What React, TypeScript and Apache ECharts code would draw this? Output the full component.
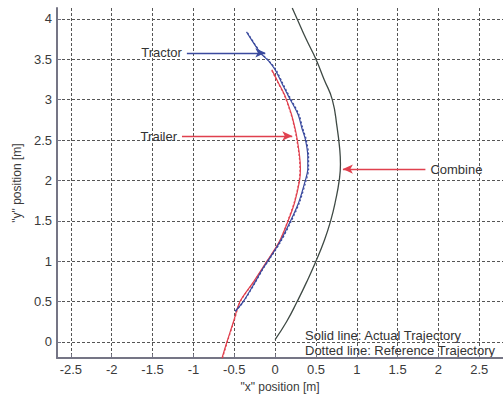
import React, { useEffect, useRef } from "react";
import * as echarts from "echarts";

// Axis ranges
const xRange = [-2.67, 2.79];
const yRange = [-0.2, 4.135];
const tickStep = 0.5;

// Tractor (blue) – actual trajectory
const tractorActualX = [-0.49, -0.39, -0.24, -0.15, -0.09, 0.06, 0.19, 0.29, 0.37, 0.4, 0.4, 0.37, 0.33, 0.28, 0.16, 0.08, 0.0, -0.08, -0.18, -0.35];
const tractorActualY = [0.38, 0.5, 0.75, 0.91, 1.0, 1.24, 1.5, 1.73, 2.0, 2.14, 2.3, 2.51, 2.64, 2.82, 3.05, 3.21, 3.37, 3.48, 3.58, 3.84];
// Tractor (blue) – reference trajectory
const tractorRefX = [-0.485, -0.385, -0.235, -0.145, -0.085, 0.068, 0.2, 0.3, 0.38, 0.41, 0.41, 0.38, 0.34, 0.29, 0.17, 0.09, 0.01, -0.075, -0.175, -0.345];
const tractorRefY = [0.38, 0.5, 0.75, 0.91, 1.0, 1.24, 1.5, 1.73, 2.0, 2.14, 2.3, 2.51, 2.64, 2.82, 3.05, 3.21, 3.37, 3.48, 3.58, 3.84];

// Trailer (red) – actual trajectory
const trailerActualX = [-0.65, -0.59, -0.51, -0.43, -0.26, -0.1, 0.05, 0.16, 0.24, 0.3, 0.31, 0.3, 0.27, 0.245, 0.2, 0.12, 0.04, -0.04];
const trailerActualY = [-0.2, 0.0, 0.25, 0.5, 0.75, 1.0, 1.24, 1.5, 1.73, 2.0, 2.14, 2.3, 2.51, 2.64, 2.82, 3.05, 3.21, 3.37];
// Trailer (red) – reference trajectory
const trailerRefX = [-0.645, -0.585, -0.505, -0.425, -0.255, -0.095, 0.055, 0.155, 0.235, 0.295, 0.305, 0.295, 0.265, 0.24, 0.195, 0.115, 0.035, -0.045];
const trailerRefY = [-0.2, 0.0, 0.25, 0.5, 0.75, 1.0, 1.24, 1.5, 1.73, 2.0, 2.14, 2.3, 2.51, 2.64, 2.82, 3.05, 3.21, 3.37];

// Combine (dark) trajectory
const combineX = [0.0, 0.14, 0.27, 0.39, 0.5, 0.6, 0.68, 0.74, 0.785, 0.8, 0.79, 0.76, 0.7, 0.6, 0.5, 0.38, 0.27, 0.21];
const combineY = [0.03, 0.25, 0.5, 0.75, 1.0, 1.25, 1.5, 1.75, 2.0, 2.2, 2.4, 2.65, 3.0, 3.25, 3.5, 3.75, 4.0, 4.135];

// Annotation arrows
const arrowLabels = ["Tractor", "Trailer", "Combine"];
const arrowStartX = [-1.08, -1.14, 1.84];
const arrowEndX = [-0.12, 0.21, 0.83];
const arrowY = [3.58, 2.55, 2.14];

const legendLines = ["Solid line: Actual Trajectory", "Dotted line: Reference Trajectory"];

const zip = (xs: number[], ys: number[]) => xs.map((x, i) => [x, ys[i]]);

const BLUE = "#3a4a9e";
const RED = "#e0404e";
const DARK = "#3f4a45";
const FONT = "'Liberation Sans', Arial, sans-serif";

export default function App() {
  const ref = useRef<HTMLDivElement>(null);
  useEffect(() => {
    if (!ref.current) return;
    const chart = echarts.init(ref.current, undefined, { renderer: "svg" });
    const arrowColors = [BLUE, RED, RED];
    const axisCommon = {
      type: "value" as const,
      splitNumber: 11,
      minInterval: tickStep,
      maxInterval: tickStep,
      axisLine: { show: true, onZero: false, lineStyle: { color: "#757585", width: 2 } },
      axisTick: { show: true, inside: true, length: 4, lineStyle: { color: "#757585" } },
      axisLabel: {
        showMinLabel: false,
        showMaxLabel: false,
        color: "#3a3a3a",
        fontSize: 13,
        fontFamily: FONT,
      },
      splitLine: {
        show: true,
        showMinLine: false,
        showMaxLine: false,
        lineStyle: { color: "#555", type: [3, 2], width: 1 },
      },
      nameLocation: "middle" as const,
      nameTextStyle: { color: "#3a3a3a", fontSize: 12, fontFamily: FONT },
    };
    const curve = (name: string, xs: number[], ys: number[], color: string, dotted: boolean, width = 1.2, smooth = 0.3) => ({
      type: "line",
      name,
      data: zip(xs, ys),
      smooth,
      showSymbol: false,
      lineStyle: { color, width, type: dotted ? [2, 2] : "solid" },
    });
    chart.setOption({
      animation: false,
      backgroundColor: "#ffffff",
      grid: { left: 57, right: 0, top: 8, bottom: 38, containLabel: false },
      xAxis: {
        ...axisCommon,
        min: xRange[0],
        max: xRange[1],
        name: '"x" position [m]',
        nameGap: 20,
        axisLabel: { ...axisCommon.axisLabel, margin: 5 },
      },
      yAxis: {
        ...axisCommon,
        splitNumber: 9,
        min: yRange[0],
        max: yRange[1],
        name: '"y" position [m]',
        nameGap: 32,
        axisLabel: { ...axisCommon.axisLabel, margin: 5 },
      },
      series: [
        {
          ...curve("Combine", combineX, combineY, DARK, false, 1.3, 0.5),
          markLine: {
            silent: true,
            animation: false,
            symbol: ["none", "arrow"],
            symbolSize: [7, 10],
            data: arrowLabels.map((lab, i) => [
              {
                coord: [arrowStartX[i], arrowY[i]],
                lineStyle: { color: arrowColors[i], width: 1.3, type: "solid" },
                itemStyle: { color: arrowColors[i] },
                label: {
                  show: true,
                  position: "start",
                  formatter: lab,
                  color: "#333",
                  fontSize: 13,
                  fontFamily: FONT,
                  distance: 5,
                },
              },
              { coord: [arrowEndX[i], arrowY[i]] },
            ]),
          },
        },
        curve("Trailer reference", trailerRefX, trailerRefY, RED, true),
        curve("Trailer actual", trailerActualX, trailerActualY, RED, false),
        curve("Tractor reference", tractorRefX, tractorRefY, BLUE, true),
        curve("Tractor actual", tractorActualX, tractorActualY, BLUE, false),
      ],
      graphic: legendLines.map((t, i) => ({
        type: "text",
        left: 305,
        top: 329 + i * 15,
        silent: true,
        style: { text: t, fill: "#333", fontSize: 13, fontFamily: FONT },
      })),
    });
    return () => chart.dispose();
  }, []);
  return (
    <div
      ref={ref}
      style={{ position: "absolute", left: 0, top: 0, width: 503, height: 398 }}
    />
  );
}
